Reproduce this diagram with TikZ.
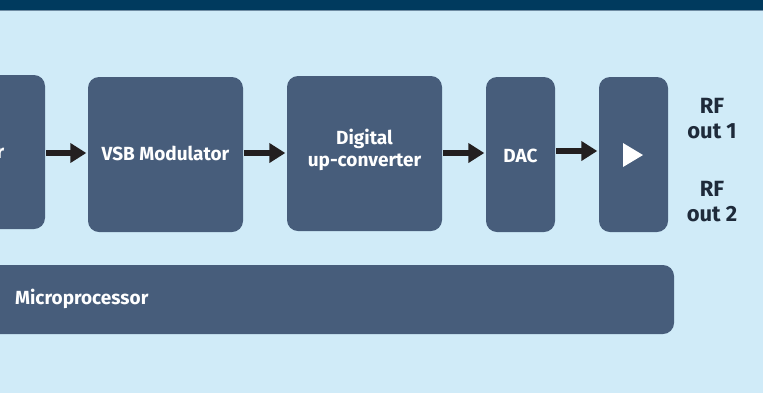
\documentclass[tikz,border=0pt]{standalone}
\usepackage{fontspec}
\setmainfont{Fira Sans}
\usetikzlibrary{arrows.meta}
\definecolor{bg}{HTML}{D0EBF8}
\definecolor{boxc}{HTML}{475D7B}
\definecolor{head}{HTML}{003A5E}
\definecolor{headline}{HTML}{6F8CA3}
\definecolor{arrc}{HTML}{231F20}
\definecolor{rftext}{HTML}{1E2A3A}
\tikzset{
  blk/.style={fill=boxc, draw=none, rounded corners=11pt, inner sep=0pt,
    text=white, font=\bfseries\fontsize{19}{22}\selectfont, align=center},
  blktext/.style={text=white, font=\bfseries\fontsize{19}{22}\selectfont, align=center, inner sep=0pt},
  arr/.style={draw=arrc, line width=6pt, -{Triangle[length=16pt,width=19pt]},
    shorten <=1pt, shorten >=1.5pt},
  rf/.style={text=rftext, font=\bfseries\fontsize{22}{25}\selectfont, align=center, inner sep=0pt}
}
\begin{document}
\begin{tikzpicture}[x=1pt,y=-1pt]
\useasboundingbox (0,0) rectangle (763,392);
\fill[bg] (-5,-5) rectangle (770,400);
\fill[head] (-5,-5) rectangle (770,10);
\fill[headline] (-5,10) rectangle (770,11.2);
% blocks
\node[blk, minimum width=75pt, minimum height=154pt] (enc) at (7.5,152) {};
\node[blktext, anchor=base east] (enct) at (4.5,158) {r};
\node[blk, minimum width=155pt, minimum height=155pt] (vsb) at (165.5,154.5) {};
\node[blktext, anchor=base] (vsbt) at (165.5,160) {VSB Modulator};
\node[blk, minimum width=155pt, minimum height=155pt] (duc) at (364.5,153.5) {};
\node[blktext, anchor=base] (duct) at (364.5,166) {Digital\\up-converter};
\node[blk, minimum width=69pt, minimum height=155pt] (dac) at (520.5,154.5) {};
\node[blktext, anchor=base] (dact) at (520.5,162) {DAC};
\node[blk, minimum width=69pt, minimum height=155pt] (amp) at (633.5,154.5) {};
\fill[white] (623,143) -- (643,155) -- (623,167) -- cycle;
\node[blk, minimum width=700pt, minimum height=69pt] (mcu) at (324,299.5) {};
\node[blktext, anchor=base west] (mcut) at (15,304) {Microprocessor};
% arrows
\draw[arr] ([yshift=1.5pt]enc.east |- vsb.center) -- ([yshift=1.5pt]vsb.west);
\draw[arr] ([yshift=1.5pt]vsb.east) -- ([yshift=1.5pt]duc.west |- vsb.center);
\draw[arr] ([yshift=1.5pt]duc.east |- dac.center) -- ([yshift=1.5pt]dac.west);
\draw[arr] ([yshift=3.5pt]dac.east) -- ([yshift=3.5pt]amp.west);
% outputs
\node[rf, anchor=base] (rf1) at (712,138) {RF\\out 1};
\node[rf, anchor=base] (rf2) at (712,221) {RF\\out 2};
\end{tikzpicture}
\end{document}
